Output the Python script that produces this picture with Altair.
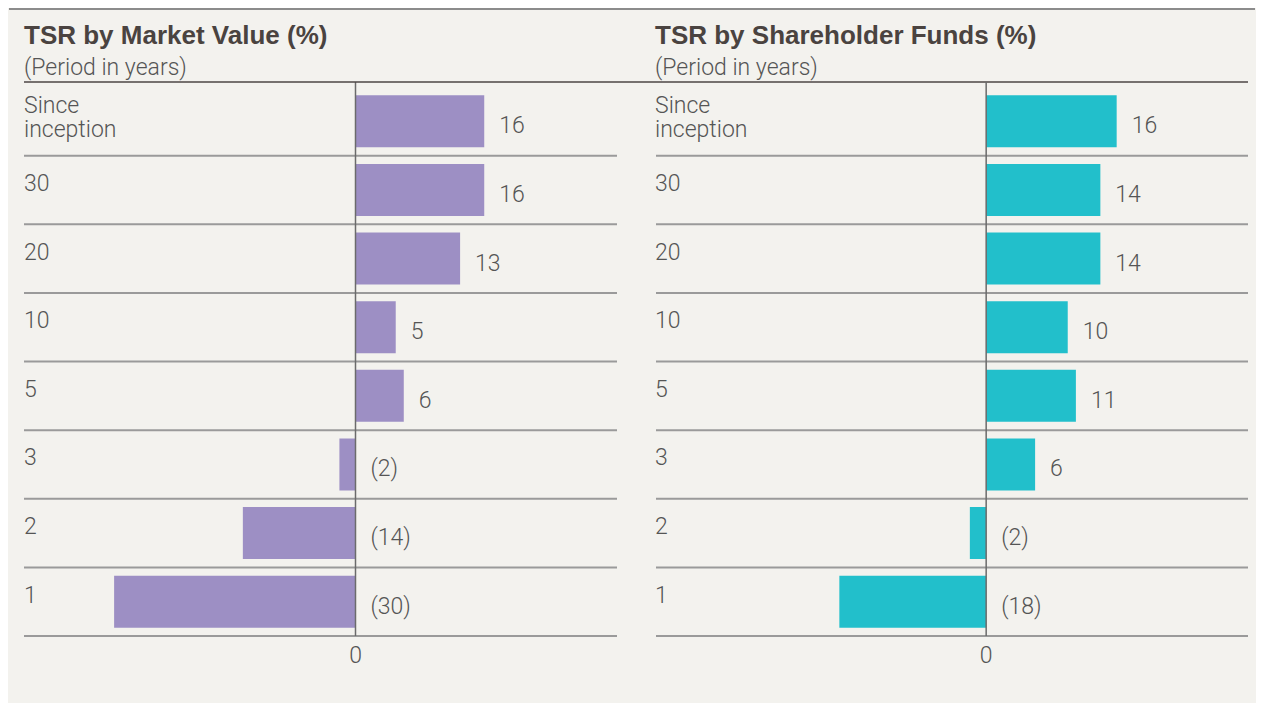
import altair as alt
import pandas as pd

# ---- data ----
periods = ["Since\ninception", "30", "20", "10", "5", "3", "2", "1"]
market_value = [16, 16, 13, 5, 6, -2, -14, -30]
shareholder_funds = [16, 14, 14, 10, 11, 6, -2, -18]
titles = ["TSR by Market Value (%)", "TSR by Shareholder Funds (%)"]
subtitle = "(Period in years)"
colors = ["#9d8fc4", "#22bfcb"]
domains = [[-41.2, 32.5], [-40.6, 32.1]]

W, H = 593, 549
GAP = 38
BG = "#f3f2ee"
TXT = "#555555"
FONT = "Roboto"
TFONT = "Liberation Sans"
MULTI = periods[0]


def panel(values, color, title, domain, first):
    df = pd.DataFrame({
        "period": periods,
        "value": values,
        "label": [f"({abs(v)})" if v < 0 else str(v) for v in values],
        "xpos": [max(v, 0) for v in values],
    })
    base = alt.Chart(df)
    yscale = alt.Scale(paddingInner=0, paddingOuter=0)
    yenc = alt.Y("period:N", sort=periods, scale=yscale, axis=None)
    xscale = alt.Scale(domain=domain, nice=False, zero=False)

    bars = base.mark_bar(size=52, color=color).encode(
        x=alt.X("value:Q", scale=xscale, axis=None),
        x2=alt.datum(0),
        y=yenc,
    )
    rows = base.mark_rule(color="#9a9a9a", strokeWidth=2).encode(
        y=alt.Y("period:N", sort=periods, scale=yscale, axis=None, bandPosition=1),
        x=alt.value(0 if first else 1),
        x2=alt.value(W),
    )
    lab_style = dict(align="left", baseline="middle", fontSize=23, font=FONT,
                     fontWeight=300, color=TXT, lineBreak="\n", lineHeight=24)
    row_labels = base.transform_filter(alt.datum.period != MULTI).mark_text(
        dy=-6, **lab_style
    ).encode(x=alt.value(0), y=yenc, text="period:N")
    row_labels_multi = base.transform_filter(alt.datum.period == MULTI).mark_text(
        dy=-15, **lab_style
    ).encode(x=alt.value(0), y=yenc, text="period:N")
    val_labels = base.mark_text(
        align="left", baseline="middle", dx=15, dy=5, fontSize=23, font=FONT,
        fontWeight=300, color=TXT,
    ).encode(x=alt.X("xpos:Q", scale=xscale, axis=None), y=yenc, text="label:N")

    zdf = pd.DataFrame({"z": [0]})
    zero_line = alt.Chart(zdf).mark_rule(color="#6b6b6b", strokeWidth=1.5).encode(
        x=alt.X("z:Q", scale=xscale, axis=None), y=alt.value(-5), y2=alt.value(H)
    )
    zero_lab = alt.Chart(zdf).mark_text(
        align="center", baseline="alphabetic", fontSize=23, font=FONT,
        fontWeight=300, color=TXT,
    ).encode(x=alt.X("z:Q", scale=xscale, axis=None), y=alt.value(H + 27), text=alt.value("0"))

    tdf = pd.DataFrame({"t": [title], "s": [subtitle]})
    ttl = alt.Chart(tdf).mark_text(
        align="left", baseline="alphabetic", fontSize=26, fontWeight="bold",
        font=TFONT, color="#4a4340",
    ).encode(x=alt.value(0), y=alt.value(-43), text="t:N")
    sub = alt.Chart(tdf).mark_text(
        align="left", baseline="alphabetic", fontSize=23, font=FONT,
        fontWeight=300, color=TXT,
    ).encode(x=alt.value(0), y=alt.value(-12.5), text="s:N")

    layers = [bars, rows, zero_line, row_labels, row_labels_multi, val_labels,
              zero_lab, ttl, sub]
    if first:
        sub_line = alt.Chart(tdf).mark_rule(color="#4d4644", strokeWidth=1.5).encode(
            x=alt.value(0), x2=alt.value(2 * W + GAP), y=alt.value(-5)
        )
        top_line = alt.Chart(tdf).mark_rule(color="#8c8c8c", strokeWidth=2).encode(
            x=alt.value(-15), x2=alt.value(2 * W + GAP + 7), y=alt.value(-78)
        )
        filler = alt.Chart(tdf).mark_rule(color=BG, strokeWidth=1).encode(
            x=alt.value(0), x2=alt.value(10), y=alt.value(H + 66)
        )
        layers += [sub_line, top_line, filler]
    return alt.layer(*layers).properties(width=W, height=H)


left = panel(market_value, colors[0], titles[0], domains[0], True)
right = panel(shareholder_funds, colors[1], titles[1], domains[1], False)

chart = (
    alt.hconcat(left, right, spacing=GAP, bounds="flush")
    .properties(background=BG, padding=0)
    .configure_view(stroke=None)
)

chart.save("out.html", embed_options={"renderer": "svg", "actions": False})
